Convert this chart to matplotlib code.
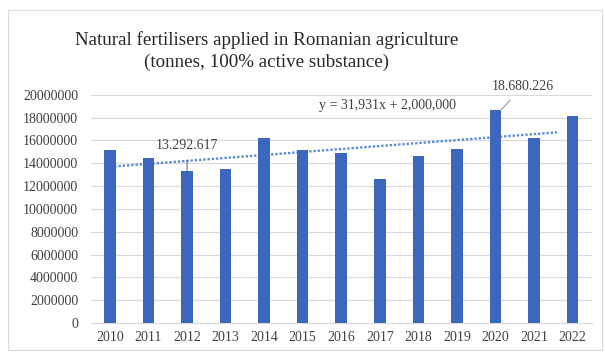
import numpy as np
import matplotlib.pyplot as plt
from matplotlib.patches import Rectangle

# Natural fertilisers, tonnes of active substance, per year
years = ['2010', '2011', '2012', '2013', '2014', '2015', '2016',
         '2017', '2018', '2019', '2020', '2021', '2022']
tonnes = [15170000, 14470000, 13292617, 13500000, 16200000, 15170000, 14870000,
          12580000, 14640000, 15280000, 18680226, 16200000, 18100000]
y_ticks = [0, 2000000, 4000000, 6000000, 8000000, 10000000,
           12000000, 14000000, 16000000, 18000000, 20000000]

plt.rcParams['font.family'] = ['Liberation Serif', 'DejaVu Serif']

fig = plt.figure(figsize=(6.05, 3.52), dpi=100)
fig.patches.append(Rectangle((0.013, 0.005), 0.982, 0.966, transform=fig.transFigure,
                             fill=False, edgecolor='#d9d9d9', linewidth=0.8))
ax = fig.add_axes([0.150, 0.0824, 0.828, 0.6486])

x = np.arange(len(years))
ax.bar(x, tonnes, width=0.3, color='#3d66bf', zorder=3)

# linear trend over all years
slope, intercept = np.polyfit(x, tonnes, 1)
tx = np.array([0.0, 11.6])
ax.plot(tx, slope * tx + intercept, linestyle=(0, (1, 0.8)), color='#5b8bd6',
        linewidth=1.7, zorder=2)

ax.set_xlim(-0.5, len(years) - 0.5)
ax.set_ylim(0, 20000000)
ax.set_xticks(x)
ax.set_xticklabels(years)
ax.set_yticks(y_ticks)
ax.set_yticklabels([str(v) for v in y_ticks])
ax.tick_params(axis='both', length=0, labelsize=10, colors='#404040')
ax.tick_params(axis='y', pad=9)
ax.tick_params(axis='x', pad=6)
ax.grid(axis='y', color='#d9d9d9', linewidth=0.8, zorder=0)
for s in ['top', 'right', 'left']:
    ax.spines[s].set_visible(False)
ax.spines['bottom'].set_color('#d9d9d9')

ax.annotate('13.292.617', xy=(2, tonnes[2]), xytext=(2, 15550000),
            ha='center', va='center', fontsize=10, color='#404040',
            arrowprops=dict(arrowstyle='-', color='#595959', lw=0.7, shrinkA=4, shrinkB=0))
ax.annotate('18.680.226', xy=(10.15, tonnes[10]), xytext=(10.72, 20700000),
            ha='center', va='center', fontsize=10, color='#404040', annotation_clip=False,
            arrowprops=dict(arrowstyle='-', color='#8c8c8c', lw=0.7, shrinkA=4, shrinkB=0))
ax.text(7.19, 19040000, 'y = 31,931x + 2,000,000', ha='center', va='center',
        fontsize=10, color='#404040')

fig.text(0.44, 0.855, 'Natural fertilisers applied in Romanian agriculture\n'
         '(tonnes, 100% active substance)', ha='center', va='center',
         fontsize=13.7, color='#262626', linespacing=1.4)

fig.savefig('out.png', dpi=100)
